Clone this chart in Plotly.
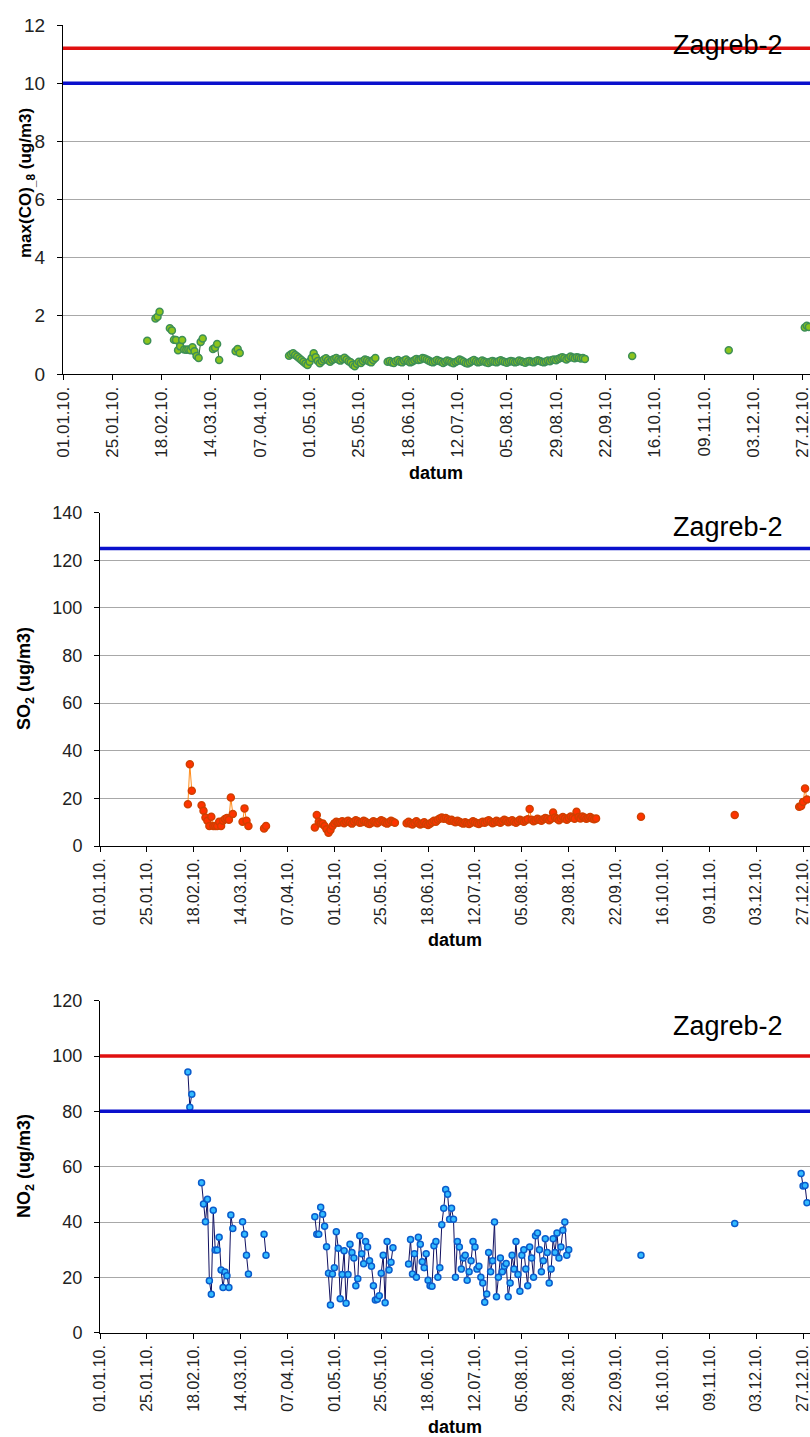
import plotly.graph_objects as go
import pandas as pd

# ---------------- data ----------------
tick_dates = ["2010-01-01", "2010-01-25", "2010-02-18", "2010-03-14", "2010-04-07",
              "2010-05-01", "2010-05-25", "2010-06-18", "2010-07-12", "2010-08-05",
              "2010-08-29", "2010-09-22", "2010-10-16", "2010-11-09", "2010-12-03",
              "2010-12-27"]
tick_labels = ["01.01.10.", "25.01.10.", "18.02.10.", "14.03.10.", "07.04.10.",
               "01.05.10.", "25.05.10.", "18.06.10.", "12.07.10.", "05.08.10.",
               "29.08.10.", "22.09.10.", "16.10.10.", "09.11.10.", "03.12.10.",
               "27.12.10."]
x_range = ["2010-01-01", "2010-12-30 13:00"]
station = "Zagreb-2"

# CO: (start date, consecutive daily values; None = missing day)
co_segments = [
    ("2010-02-11", [1.14, None, None, None, 1.91, 1.97, 2.14]),
    ("2010-02-22", [1.57, 1.50, 1.18, 1.17, 0.82, 0.95, 1.17, 0.84, 0.83, 0.84, 0.82,
                    0.92, 0.78, 0.62, 0.55, 1.10, 1.22]),
    ("2010-03-15", [0.86, 0.90, 1.03, 0.48]),
    ("2010-03-26", [0.78, 0.86, 0.72]),
    ("2010-04-21", [0.63, 0.68, 0.71, 0.65, 0.60, 0.54, 0.48, 0.42, 0.36, 0.31, 0.42,
                    0.55, 0.71, 0.58, 0.45, 0.37, 0.44, 0.50, 0.54, 0.47, 0.42, 0.48,
                    0.52, 0.55, 0.50, 0.46, 0.52, 0.56, 0.50, 0.44, 0.40, 0.32, 0.27,
                    0.35, 0.42, 0.38, 0.45, 0.50, 0.47, 0.43, 0.40, 0.48, 0.55]),
    ("2010-06-08", [0.42, 0.45, 0.40, 0.38, 0.45, 0.48, 0.42, 0.40, 0.46, 0.50, 0.44,
                    0.40, 0.43, 0.47, 0.52, 0.48, 0.50, 0.55, 0.53, 0.50, 0.46, 0.42,
                    0.40, 0.44, 0.48, 0.45, 0.42, 0.38, 0.42, 0.46, 0.44, 0.40, 0.37,
                    0.41, 0.45, 0.50, 0.46, 0.42, 0.38, 0.36, 0.40, 0.45, 0.48, 0.44,
                    0.40, 0.42, 0.46, 0.43, 0.40, 0.38, 0.42, 0.45, 0.42, 0.40, 0.44,
                    0.47, 0.44, 0.41, 0.39, 0.42, 0.45, 0.43, 0.40, 0.42, 0.46, 0.44,
                    0.41, 0.39, 0.43, 0.45, 0.42, 0.40, 0.44, 0.47, 0.45, 0.42, 0.40,
                    0.43, 0.46, 0.44, 0.48, 0.50, 0.47, 0.52, 0.55, 0.58, 0.54, 0.50,
                    0.55, 0.60, 0.57, 0.54, 0.58, 0.56, 0.53, 0.55, 0.52]),
    ("2010-10-05", [0.62]),
    ("2010-11-21", [0.82]),
    ("2010-12-28", [1.60, 1.66, 1.62]),
]
co_limit_red = 11.2
co_limit_blue = 10

# SO2
so2_segments = [
    ("2010-02-15", [17.5, 34.3, 23.2]),
    ("2010-02-22", [17.1, 14.8, 12.0, 10.6, 8.4, 12.3, 8.4, 8.4, 8.4, 10.2, 8.4, 10.6,
                    11.3, 11.8, 11.0, 20.4, 13.4]),
    ("2010-03-15", [10.2, 15.8, 10.6, 8.4]),
    ("2010-03-26", [7.4, 8.4]),
    ("2010-04-21", [7.8, 13.0, 10.2, 9.5, 9.5, 8.4, 7.0, 5.6, 6.7, 8.4, 9.5, 10.2, 9.8,
                    10.0, 10.4, 9.6, 10.2, 10.6, 10.0, 9.4, 10.2, 10.8, 10.4, 9.8, 10.0,
                    10.6, 10.2, 9.6, 9.2, 9.8, 10.4, 10.0, 9.6, 10.2, 10.8, 10.4, 9.8,
                    9.4, 10.0, 10.6, 10.2, 9.8]),
    ("2010-06-07", [9.6, 10.2, 9.4, 9.0, 9.8, 10.4, 9.6, 9.0, 9.4, 10.0, 9.2, 8.8, 9.4,
                    10.0, 10.6, 10.2, 11.0, 11.6, 12.0, 11.4, 11.8, 11.2, 10.6, 11.0,
                    10.4, 10.0, 10.6, 10.2, 9.8, 9.4, 10.0, 9.6, 9.2, 9.8, 10.4, 10.0,
                    9.6, 9.2, 9.8, 10.2, 9.8, 10.4, 10.8, 10.2, 9.6, 10.0, 10.6, 10.2,
                    9.8, 10.4, 11.0, 10.6, 10.0, 10.4, 10.8, 10.2, 9.8, 10.4, 11.0,
                    10.6, 10.2, 10.8, 11.2, 15.5, 11.0, 10.4, 10.8, 11.4, 11.0, 10.6,
                    11.2, 11.8, 11.4, 10.8, 11.4, 14.1, 12.0, 11.4, 10.8, 11.6, 12.2,
                    11.6, 11.0, 11.8, 12.4, 12.0, 11.4, 14.4, 12.2, 11.6, 12.4, 12.0,
                    11.4, 11.8, 12.2, 11.6, 11.2, 11.6]),
    ("2010-10-05", [12.3]),
    ("2010-11-22", [13.0]),
    ("2010-12-25", [16.5, 16.8, 18.5, 24.2, 19.5]),
]
so2_limit_blue = 125

# NO2
no2_segments = [
    ("2010-02-15", [94.2, 81.5, 86.2]),
    ("2010-02-22", [54.2, 46.5, 40.1, 48.2, 18.8, 13.9, 44.3, 29.9, 29.9, 34.5, 22.7,
                    16.3, 21.9, 20.6, 16.3, 42.5, 37.7]),
    ("2010-03-15", [40.1, 35.6, 28.0, 21.2]),
    ("2010-03-26", [35.6, 28.0]),
    ("2010-04-21", [41.9, 35.6, 35.6, 45.3, 42.8, 38.5, 31.1, 21.5, 10.0, 21.2, 23.5,
                    36.5, 30.5, 12.3, 21.0, 29.6, 10.6, 21.0, 32.0, 29.0, 27.0, 17.0,
                    19.5, 35.0, 28.5, 24.9, 33.0, 31.0, 26.0, 24.0, 17.0, 11.8, 12.1,
                    13.4, 21.5, 28.0, 10.8, 33.0, 22.7, 25.5, 30.7]),
    ("2010-06-08", [24.8, 33.7, 21.2, 28.5, 20.0, 34.5, 32.0, 25.6, 23.5, 28.5, 19.0,
                    17.0, 16.8, 31.4, 33.0, 20.0, 23.5, 39.0, 45.0, 51.8, 50.0, 41.0,
                    45.0, 41.0, 20.0, 33.0, 31.0, 23.0, 27.0, 28.0, 19.0, 22.0, 26.0,
                    33.0, 31.0, 23.0, 24.0, 20.0, 18.0, 11.0, 14.0, 29.0, 22.0, 26.0,
                    40.0, 13.0, 20.0, 27.0, 22.0, 24.0, 25.0, 13.0, 18.0, 28.0, 23.0,
                    33.0, 21.0, 15.0, 28.0, 30.0, 23.0, 17.0, 31.0, 27.0, 20.0, 35.0,
                    36.0, 30.0, 22.0, 26.0, 34.0, 29.0, 18.0, 23.0, 34.0, 29.0, 36.0,
                    27.0, 31.0, 37.0, 40.0, 28.0, 30.0]),
    ("2010-10-05", [28.0]),
    ("2010-11-22", [39.5]),
    ("2010-12-26", [57.5, 53.0, 53.2, 47.0]),
]
no2_limit_red = 100
no2_limit_blue = 80

# ---------------- helpers ----------------
FONT = "Liberation Sans, Arial, sans-serif"
W, H = 810, 1437


def build_xy(segments):
    xs, ys = [], []
    for start, vals in segments:
        dates = pd.date_range(start, periods=len(vals), freq="D")
        xs.extend(list(dates))
        ys.extend(vals)
        xs.append(None)
        ys.append(None)
    return xs, ys


def py(px):
    return 1 - px / H


fig = go.Figure()

panels = [
    # (segments, xaxis id, yaxis id, marker fill, marker line, line colour, size)
    (co_segments, "x", "y", "#8cc41c", "#3d8f56", "#2f5f2f", 7),
    (so2_segments, "x2", "y2", "#ff3300", "#d04000", "#ff8c1a", 7),
    (no2_segments, "x3", "y3", "#33bbff", "#0a5ccc", "#101060", 6),
]
for segs, xa, ya, fill, edge, lcol, msz in panels:
    xs, ys = build_xy(segs)
    fig.add_trace(go.Scatter(
        x=xs, y=ys, xaxis=xa, yaxis=ya, mode="lines+markers",
        line=dict(color=lcol, width=1),
        marker=dict(size=msz, color=fill, line=dict(color=edge, width=1.5)),
        connectgaps=False, showlegend=False, hoverinfo="skip"))

# limit lines
limits = [("y", co_limit_red, "#e01010"), ("y", co_limit_blue, "#0a10cc"),
          ("y2", so2_limit_blue, "#0a10cc"),
          ("y3", no2_limit_red, "#e01010"), ("y3", no2_limit_blue, "#0a10cc")]
for yref, val, col in limits:
    xref = {"y": "x domain", "y2": "x2 domain", "y3": "x3 domain"}[yref]
    fig.add_shape(type="line", xref=xref, yref=yref, x0=0, x1=1, y0=val, y1=val,
                  line=dict(color=col, width=3.5))


def xaxis(domain, anchor, fs):
    return dict(domain=domain, anchor=anchor, type="date", range=x_range,
                tickmode="array", tickvals=tick_dates, ticktext=tick_labels,
                tickangle=-90, tickfont=dict(family=FONT, size=fs, color="#222"),
                ticklabeloverflow="allow",
                showgrid=False, showline=True, linecolor="#000", linewidth=1,
                ticks="outside", ticklen=5, tickcolor="#000", zeroline=False,
                automargin=False, fixedrange=True)


def yaxis(domain, anchor, rng, dtick, fs):
    return dict(domain=domain, anchor=anchor, range=rng, dtick=dtick,
                tickfont=dict(family=FONT, size=fs, color="#222"),
                showgrid=True, gridcolor="#a8a8a8", gridwidth=1,
                showline=True, linecolor="#000", linewidth=1,
                ticks="outside", ticklen=5, tickcolor="#000",
                ticklabelstandoff=8, zeroline=False, automargin=False,
                fixedrange=True)


top_x = [63 / W, 1.0]
mid_x = [100 / W, 1.0]
top_y = [py(374), py(25)]
mid_y = [py(846), py(512.7)]
bot_y = [py(1332.7), py(1000.7)]

fig.update_layout(
    width=W, height=H, autosize=False,
    margin=dict(l=0, r=0, t=0, b=0, pad=0),
    paper_bgcolor="white", plot_bgcolor="white",
    xaxis=xaxis(top_x, "y", 17),
    yaxis=yaxis(top_y, "x", [0, 12], 2, 19),
    xaxis2=xaxis(mid_x, "y2", 16),
    yaxis2=yaxis(mid_y, "x2", [0, 140], 20, 18),
    xaxis3=xaxis(mid_x, "y3", 16),
    yaxis3=yaxis(bot_y, "x3", [0, 120], 20, 18),
)

ann = []
# y-axis titles
ytitles = [("<b>max(CO)<sub>_8</sub> (ug/m3)</b>", 27, 183, 17),
           ("<b>SO<sub>2</sub> (ug/m3)</b>", 25, 679, 18),
           ("<b>NO<sub>2</sub> (ug/m3)</b>", 25, 1166, 18)]
for txt, x, y, fs in ytitles:
    ann.append(dict(text=txt, xref="paper", yref="paper", x=x / W, y=py(y),
                    xanchor="center", yanchor="middle", textangle=-90,
                    showarrow=False, font=dict(family=FONT, size=fs, color="#000")))
# x-axis titles
for x, y in [(436, 473), (455, 940), (455, 1427)]:
    ann.append(dict(text="<b>datum</b>", xref="paper", yref="paper", x=x / W, y=py(y),
                    xanchor="center", yanchor="middle", showarrow=False,
                    font=dict(family=FONT, size=18, color="#000")))
# station labels
for y in [45, 527, 1026]:
    ann.append(dict(text=station, xref="paper", yref="paper", x=785 / W, y=py(y),
                    xanchor="right", yanchor="middle", showarrow=False,
                    font=dict(family=FONT, size=27, color="#000")))
fig.update_layout(annotations=ann)

fig.write_html("out.html",
               config={"displayModeBar": False, "staticPlot": True},
               post_script="document.body.style.margin='0px';"
                           "document.body.style.overflow='hidden';")
